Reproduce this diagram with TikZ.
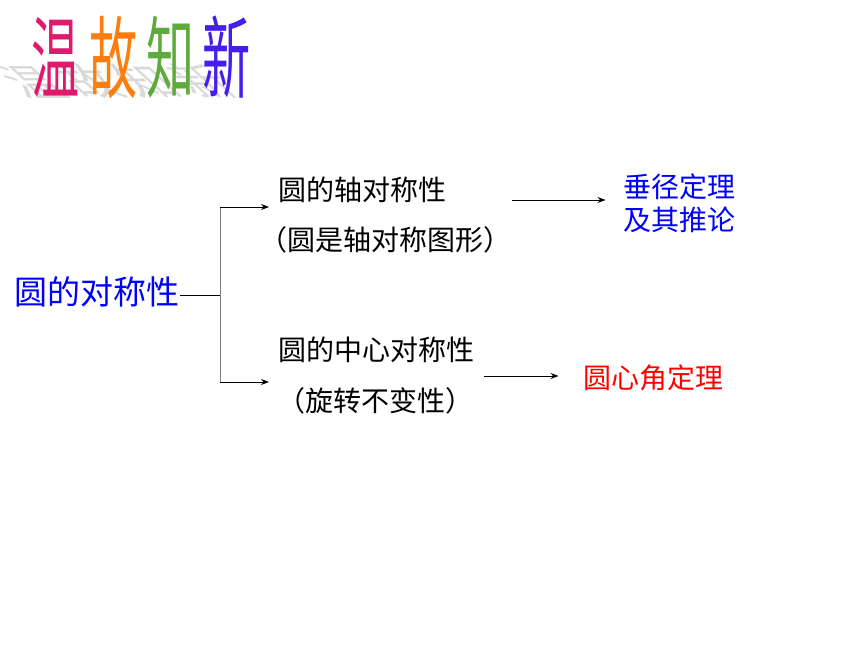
\documentclass[tikz,border=0pt]{standalone}
\usepackage{fontspec}
\newfontfamily\cjk[RawFeature=+halt]{Noto Sans CJK SC}
\newfontfamily\cjktitle{Noto Sans CJK SC}
\usetikzlibrary{arrows.meta,positioning}

\begin{document}
\begin{tikzpicture}[
        x=1pt, y=-1pt,
        every node/.style={inner sep=0pt, font=\cjk\fontsize{28}{33}\selectfont, align=center},
        every path/.style={line width=1pt},
        >={Stealth[length=8pt,width=6pt]},
        root/.style={text=blue, font=\cjk\fontsize{33}{33}\selectfont},
        theorem/.style={text=blue},
        titlechar/.style={font=\cjktitle\fontsize{56}{56}\selectfont},
        shadowchar/.style={font=\cjktitle\fontsize{56}{56}\selectfont, text=gray!30, transform shape, anchor=south}
    ]
    \useasboundingbox (0,0) rectangle (860,645);

    % Title shadow
    \begin{scope}[shift={(50,99)}, xslant=-1.1, yscale=0.42]
      \node[shadowchar] (shwen) {\scalebox{0.86}[1.6]{温}};
    \end{scope}
    \begin{scope}[shift={(108,99)}, xslant=-1.1, yscale=0.42]
      \node[shadowchar] (shgu) {\scalebox{0.86}[1.6]{故}};
    \end{scope}
    \begin{scope}[shift={(165,99)}, xslant=-1.1, yscale=0.42]
      \node[shadowchar] (shzhi) {\scalebox{0.86}[1.6]{知}};
    \end{scope}
    \begin{scope}[shift={(221,99)}, xslant=-1.1, yscale=0.42]
      \node[shadowchar] (shxin) {\scalebox{0.86}[1.6]{新}};
    \end{scope}

    % Title
    \node[titlechar, text={rgb,255:red,225;green,25;blue,110}] (wen) at (56,57) {\scalebox{0.86}[1.6]{温}};
    \node[titlechar, text={rgb,255:red,255;green,125;blue,15}] (gu) at (114,57) {\scalebox{0.86}[1.6]{故}};
    \node[titlechar, text={rgb,255:red,95;green,170;blue,60}] (zhi) at (171,57) {\scalebox{0.86}[1.6]{知}};
    \node[titlechar, text={rgb,255:red,70;green,30;blue,235}] (xin) at (227,57) {\scalebox{0.86}[1.6]{新}};

    % Nodes
    \node[root, anchor=east] (sym) at (180,292) {圆的对称性};

    \node (axis) at (362,190) {圆的轴对称性};
    \node (axisnote) at (385,240) {（圆是轴对称图形）};
    \node (central) at (376,350) {圆的中心对称性};
    \node (rotnote) at (375,401) {（旋转不变性）};

    \node[theorem] (chord) at (679,203) {垂径定理\\及其推论};
    \node[text=red] (angle) at (653,378) {圆心角定理};

    \coordinate (fork) at (220,295);
    \coordinate (forktop) at (220,207);
    \coordinate (forkbot) at (220,382);
    \coordinate (axtip) at (269,207);
    \coordinate (cetip) at (269,382);
    \coordinate (axout) at (512,200);
    \coordinate (ceout) at (484,376);

    % Edges
    \draw (sym.east |- fork) -- (fork);
    \draw[gray] (forktop) -- (forkbot);
    \draw[->] (forktop) -- (axtip);
    \draw[->] (forkbot) -- (cetip);
    \draw[->, shorten >=17pt] (axout) -- (axout -| chord.west);
    \draw[->, shorten >=24pt] (ceout) -- (ceout -| angle.west);

\end{tikzpicture}
\end{document}
